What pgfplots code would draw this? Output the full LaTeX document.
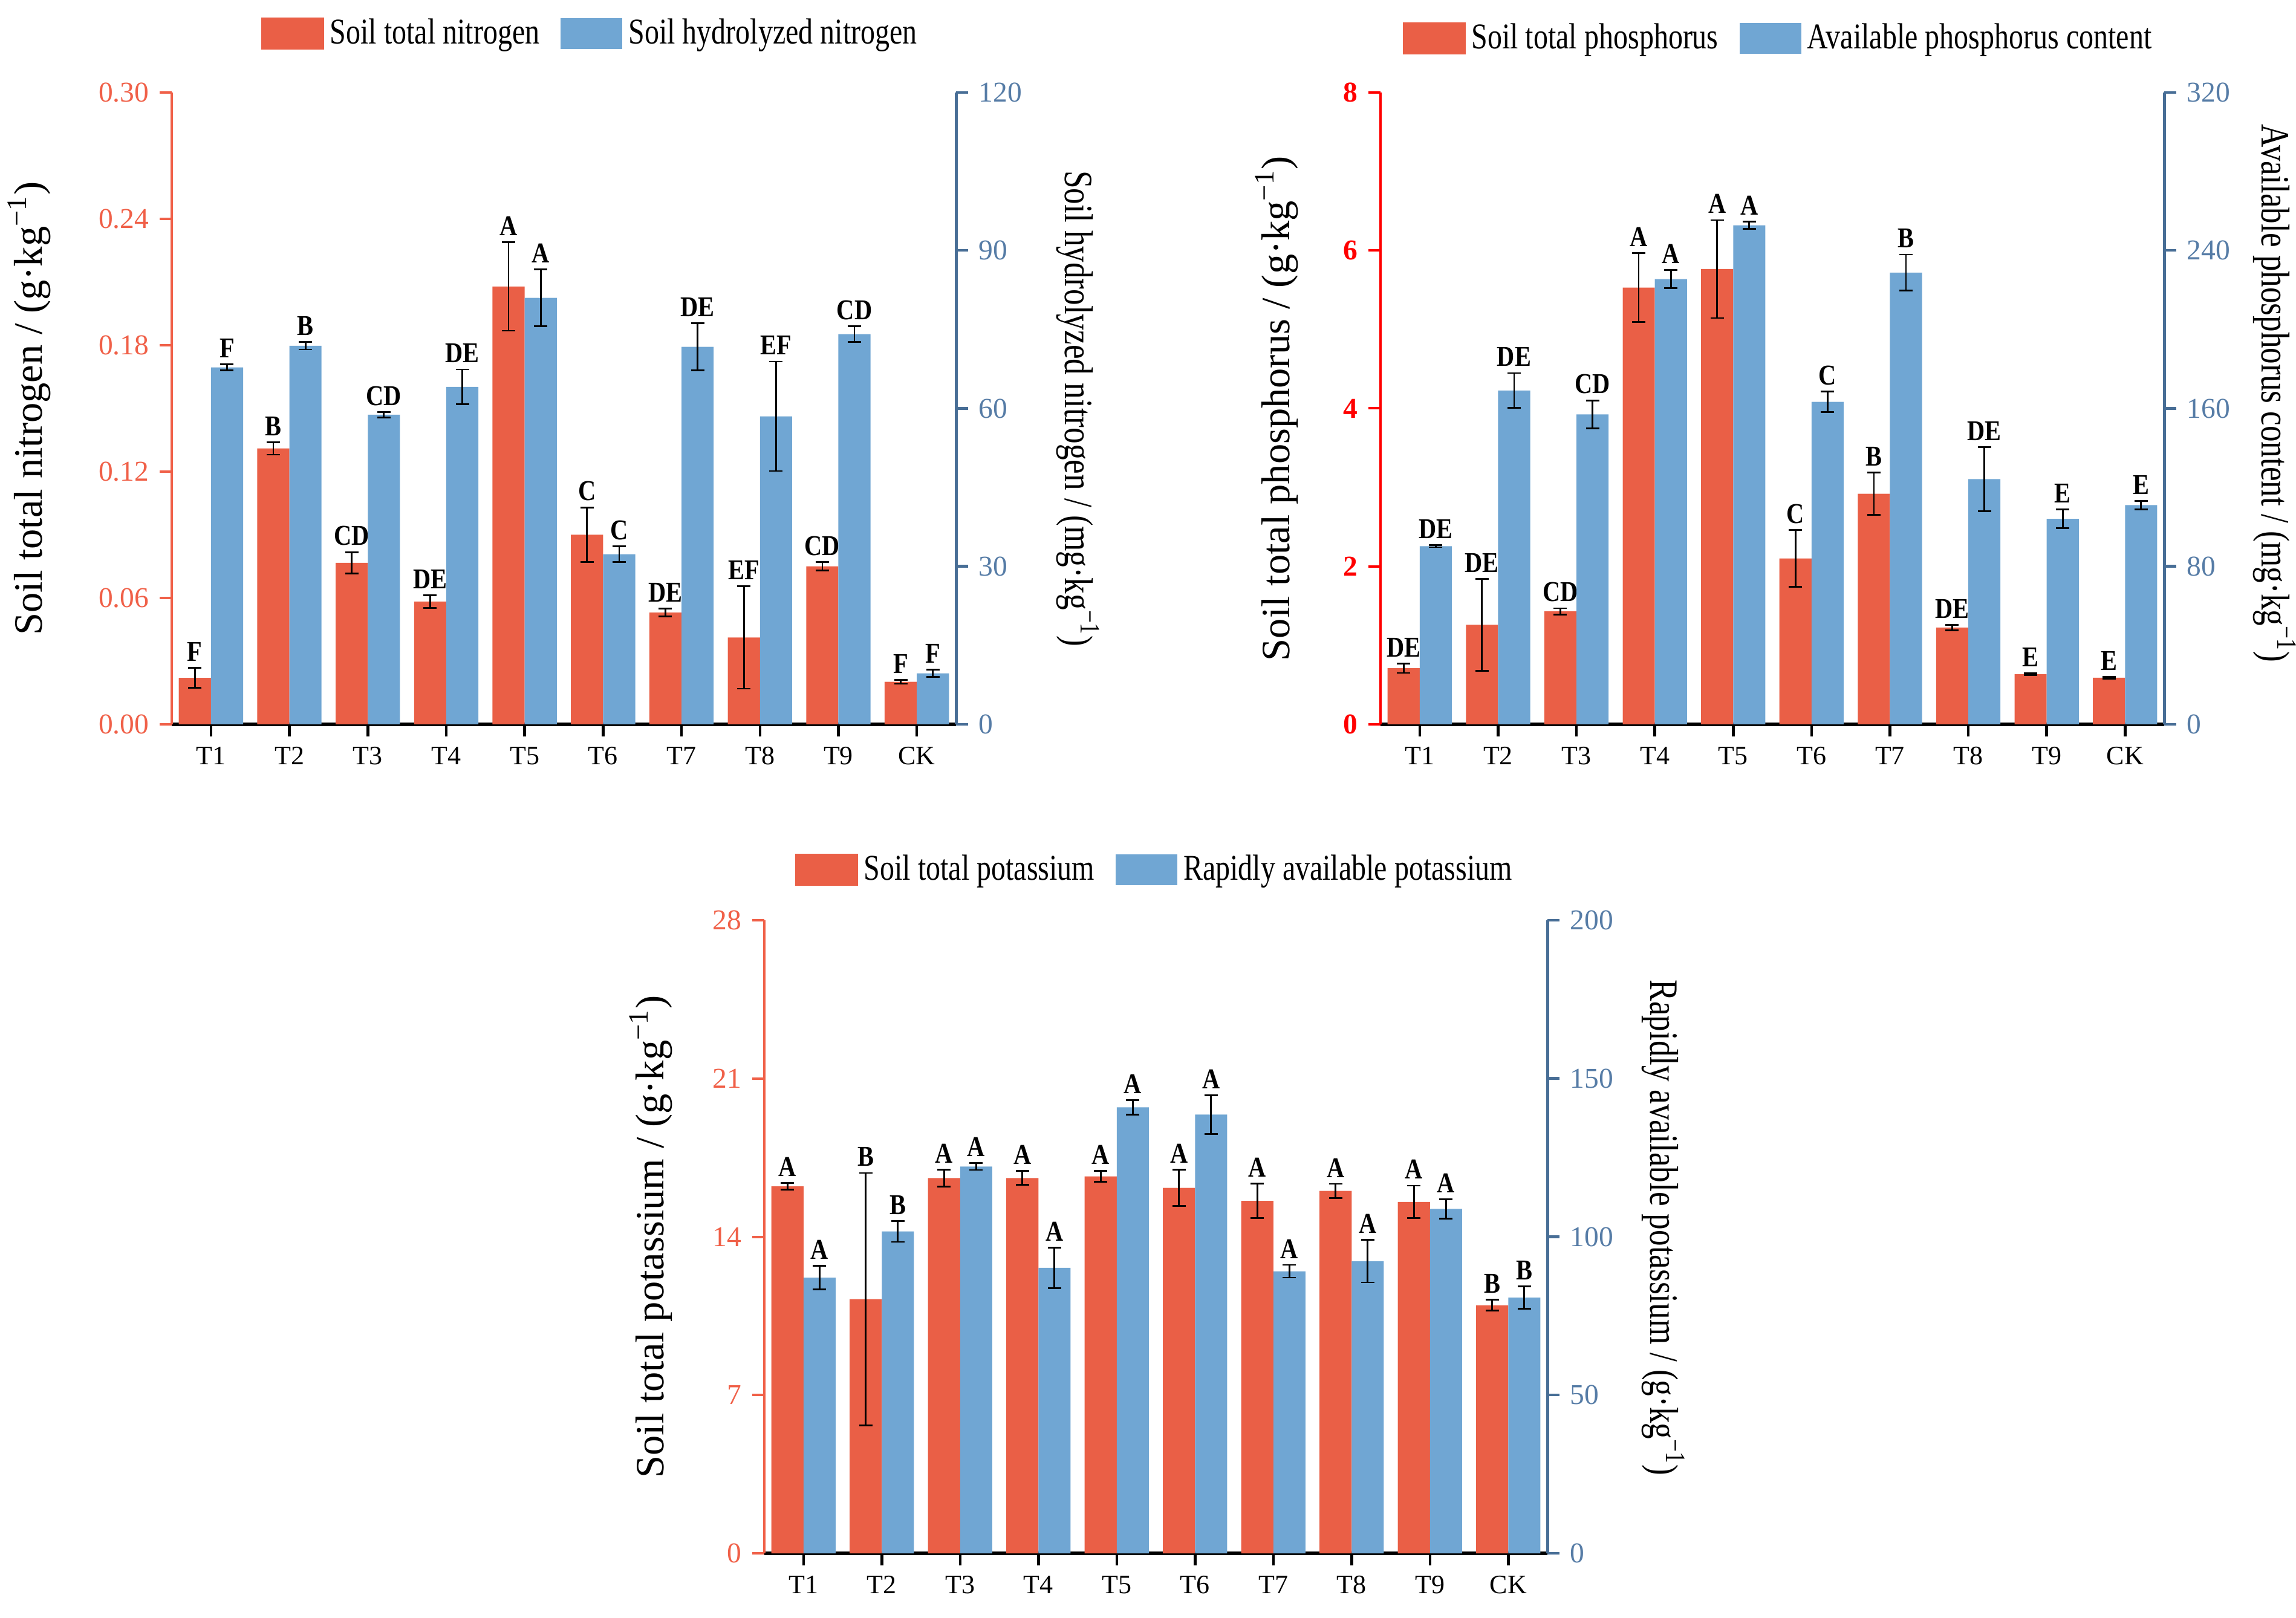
\documentclass[border=0pt]{standalone}
\usepackage{fontspec}
\setmainfont{Liberation Serif}
\newfontfamily\condfont{Liberation Serif}[FakeStretch=0.8]
\newfontfamily\rlabfont{Liberation Serif}[FakeStretch=0.8]
\newfontfamily\letterfont{Liberation Serif}[FakeStretch=0.85]
\usepackage{pgfplots}
\usepackage{pgfplotstable}
\pgfplotsset{compat=1.18}

\definecolor{barred}{RGB}{234,95,70}
\definecolor{barblue}{RGB}{112,166,211}
\definecolor{axred}{RGB}{240,96,72}
\definecolor{axpure}{RGB}{255,0,0}
\definecolor{axblue}{RGB}{72,110,150}
\definecolor{tkblue}{RGB}{86,124,166}

% nitrogen
\pgfplotstableread{
x v e l
0 0.0221 0.0048 F
1 0.131 0.003 B
2 0.0767 0.005 CD
3 0.0583 0.003 DE
4 0.2079 0.021 A
5 0.090 0.013 C
6 0.0531 0.0018 DE
7 0.0412 0.0243 EF
8 0.075 0.002 CD
9 0.0202 0.001 F
}\tnRed
\pgfplotstableread{
x v e l
0 67.8 0.6 F
1 71.9 0.7 B
2 58.8 0.5 CD
3 64.1 3.3 DE
4 81.0 5.4 A
5 32.3 1.5 C
6 71.7 4.5 DE
7 58.5 10.4 EF
8 74.1 1.5 CD
9 9.7 0.7 F
}\tnBlue
% phosphorus
\pgfplotstableread{
x v e l
0 0.71 0.06 DE
1 1.26 0.58 DE
2 1.43 0.04 CD
3 5.53 0.435 A
4 5.765 0.62 A
5 2.10 0.36 C
6 2.92 0.27 B
7 1.225 0.035 DE
8 0.635 0.01 E
9 0.59 0.01 E
}\tpRed
\pgfplotstableread{
x v e l
0 90.2 0.5 DE
1 169.1 8.8 DE
2 157.0 7.0 CD
3 225.5 4.6 A
4 252.7 1.8 A
5 163.3 5.2 C
6 228.8 9.1 B
7 124.2 16.3 DE
8 104.1 4.8 E
9 111.0 2.2 E
}\tpBlue
% potassium
\pgfplotstableread{
x v e l
0 16.23 0.15 A
1 11.24 5.58 B
2 16.6 0.375 A
3 16.6 0.31 A
4 16.67 0.24 A
5 16.16 0.8 A
6 15.59 0.77 A
7 16.03 0.31 A
8 15.54 0.72 A
9 10.97 0.24 B
}\tkRed
\pgfplotstableread{
x v e l
0 87.1 3.7 A
1 101.7 3.3 B
2 122.2 1.1 A
3 90.2 6.4 A
4 140.9 2.3 A
5 138.6 6.1 A
6 89.1 2.0 A
7 92.3 6.7 A
8 108.8 3.0 A
9 80.8 3.6 B
}\tkBlue

\pgfplotsset{
  base/.style={
    scale only axis, anchor=south west,
    xmin=-0.5, xmax=9.5, clip=false,
    tick align=outside, major tick length=4pt,
    /pgf/number format/assume math mode=true,
    ylabel style={font=\fontsize{13.3}{14}\selectfont, black},
  },
  leftax/.style={
    axis x line*=bottom, axis y line*=left,
    xtick={0,...,9}, xticklabels={T1,T2,T3,T4,T5,T6,T7,T8,T9,CK},
    x axis line style={black, line width=1.1pt, -},
    xtick style={black, line width=0.9pt},
    xticklabel style={font=\fontsize{8.8}{9}\selectfont, black},
    y axis line style={#1, line width=0.8pt, -},
    ytick style={#1, line width=0.8pt},
    yticklabel style={font=\fontsize{9.5}{10}\selectfont, text=#1},
  },
  rightax/.style={
    axis x line=none, axis y line*=right, xtick=\empty,
    ylabel near ticks, yticklabel pos=right,
    y axis line style={axblue, line width=1pt, -},
    ytick style={axblue, line width=0.9pt},
    yticklabel style={font=\fontsize{9.5}{10}\selectfont, text=tkblue},
    ylabel style={rotate=180, font=\rlabfont\fontsize{13.3}{14}\selectfont, black},
    legend columns=2,
    legend style={draw=none, fill=none, anchor=center,
      font=\condfont\fontsize{12}{12}\selectfont,
      /tikz/every even column/.append style={column sep=5pt},
      nodes={inner sep=2pt}},
  },
  errs/.style={
    error bars/y dir=both, error bars/y explicit,
    error bars/error bar style={black, line width=0.55pt},
    error bars/error mark options={rotate=90, black, line width=0.55pt, mark size=2.2pt}},
  redbars/.style={ybar, bar width=0.41, bar shift=0, fill=barred, draw=none, errs},
  bluebars/.style={ybar, bar width=0.41, bar shift=0, fill=barblue, draw=none, errs},
  lbl/.style={draw=none, mark=none, forget plot, nodes near coords,
    point meta=explicit symbolic,
    nodes near coords style={font=\letterfont\bfseries\fontsize{9.5}{10}\selectfont,
      anchor=south, inner sep=0pt, yshift=2pt, text=black}},
  redkey/.style={legend image code/.code={\fill[barred] (0pt,-5.1pt) rectangle (20.4pt,5.1pt);}},
  bluekey/.style={legend image code/.code={\fill[barblue] (0pt,-5.1pt) rectangle (20.4pt,5.1pt);}},
}

\begin{document}
\begin{tikzpicture}
\useasboundingbox (0,0) rectangle (759.4pt,535pt);

% ---------- nitrogen ----------
\begin{axis}[base, leftax=axred, at={(56.8pt,295.4pt)}, width=259.4pt, height=209pt,
  ymin=0, ymax=0.30, ytick={0,0.06,0.12,0.18,0.24,0.30},
  yticklabel style={/pgf/number format/fixed, /pgf/number format/fixed zerofill,
    /pgf/number format/precision=2},
  ylabel shift=9pt,
  ylabel={Soil total nitrogen / (g·kg\textsuperscript{−1})}]
\addplot[redbars] table[x expr=\thisrow{x}-0.205, y=v, y error=e]{\tnRed};
\addplot[lbl] table[x expr=\thisrow{x}-0.205, y expr=\thisrow{v}+\thisrow{e}, meta=l]{\tnRed};
\end{axis}
\begin{axis}[base, rightax, at={(56.8pt,295.4pt)}, width=259.4pt, height=209pt,
  ymin=0, ymax=120, ytick={0,30,60,90,120},
  ylabel shift=4.5pt,
  ylabel={Soil hydrolyzed nitrogen / (mg·kg\textsuperscript{−1})},
  legend style={at={(0.536,1.093)}}]
\addlegendimage{redkey}
\addlegendentry{Soil total nitrogen}
\addplot[bluekey, bluebars] table[x expr=\thisrow{x}+0.205, y=v, y error=e]{\tnBlue};
\addlegendentry{Soil hydrolyzed nitrogen}
\addplot[lbl] table[x expr=\thisrow{x}+0.205, y expr=\thisrow{v}+\thisrow{e}, meta=l]{\tnBlue};
\end{axis}

% ---------- phosphorus ----------
\begin{axis}[base, leftax=axpure, at={(456.6pt,295.4pt)}, width=259.2pt, height=209pt,
  ymin=0, ymax=8, ytick={0,2,4,6,8},
  yticklabel style={font=\bfseries\fontsize{9.5}{10}\selectfont},
  ylabel shift=8pt,
  ylabel={Soil total phosphorus / (g·kg\textsuperscript{−1})}]
\addplot[redbars] table[x expr=\thisrow{x}-0.205, y=v, y error=e]{\tpRed};
\addplot[lbl] table[x expr=\thisrow{x}-0.205, y expr=\thisrow{v}+\thisrow{e}, meta=l]{\tpRed};
\end{axis}
\begin{axis}[base, rightax, at={(456.6pt,295.4pt)}, width=259.2pt, height=209pt,
  ymin=0, ymax=320, ytick={0,80,160,240,320},
  ylabel shift=0.8pt,
  ylabel style={xshift=-5pt},
  ylabel={Available phosphorus content / (mg·kg\textsuperscript{−1})},
  legend style={at={(0.51,1.086)}}]
\addlegendimage{redkey}
\addlegendentry{Soil total phosphorus}
\addplot[bluekey, bluebars] table[x expr=\thisrow{x}+0.205, y=v, y error=e]{\tpBlue};
\addlegendentry{Available phosphorus content}
\addplot[lbl] table[x expr=\thisrow{x}+0.205, y expr=\thisrow{v}+\thisrow{e}, meta=l]{\tpBlue};
\end{axis}

% ---------- potassium ----------
\begin{axis}[base, leftax=axred, at={(252.8pt,21.2pt)}, width=259pt, height=209.4pt,
  ymin=0, ymax=28, ytick={0,7,14,21,28},
  ylabel shift=6.5pt,
  ylabel={Soil total potassium / (g·kg\textsuperscript{−1})}]
\addplot[redbars] table[x expr=\thisrow{x}-0.205, y=v, y error=e]{\tkRed};
\addplot[lbl] table[x expr=\thisrow{x}-0.205, y expr=\thisrow{v}+\thisrow{e}, meta=l]{\tkRed};
\end{axis}
\begin{axis}[base, rightax, at={(252.8pt,21.2pt)}, width=259pt, height=209.4pt,
  ymin=0, ymax=200, ytick={0,50,100,150,200},
  ylabel shift=2.5pt,
  ylabel style={xshift=-3pt},
  ylabel={Rapidly available potassium / (g·kg\textsuperscript{−1})},
  legend style={at={(0.501,1.080)}}]
\addlegendimage{redkey}
\addlegendentry{Soil total potassium}
\addplot[bluekey, bluebars] table[x expr=\thisrow{x}+0.205, y=v, y error=e]{\tkBlue};
\addlegendentry{Rapidly available potassium}
\addplot[lbl] table[x expr=\thisrow{x}+0.205, y expr=\thisrow{v}+\thisrow{e}, meta=l]{\tkBlue};
\end{axis}
\end{tikzpicture}
\end{document}
